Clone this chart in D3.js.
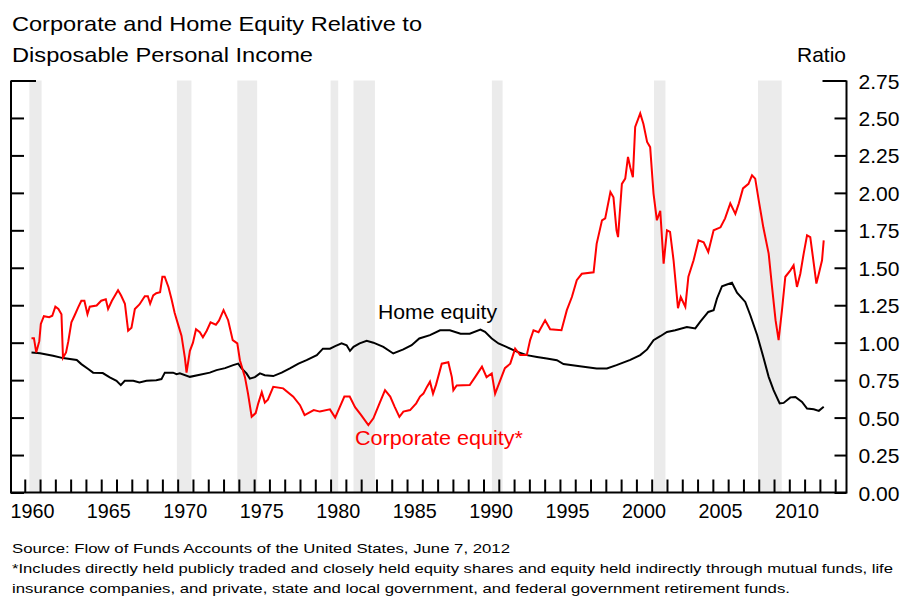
<!DOCTYPE html>
<html>
<head>
<meta charset="utf-8">
<script src="https://cdn.jsdelivr.net/npm/d3@7"></script>
<style>
  body { margin: 0; background: #fff; }
  text { font-family: "Liberation Sans", Arial, sans-serif; fill: #000; }
</style>
</head>
<body>
<svg id="chart" width="911" height="597"></svg>
<script>
// recession periods (shaded)
const recessions = [
  [1960.3, 1961.1], [1969.95, 1970.9], [1973.9, 1975.2], [1980.0, 1980.5],
  [1981.5, 1982.9], [1990.55, 1991.25], [2001.15, 2001.9], [2007.95, 2009.5]
];

const yTicks = [0, 0.25, 0.5, 0.75, 1.0, 1.25, 1.5, 1.75, 2.0, 2.25, 2.5, 2.75];
const yearLabels = [1960, 1965, 1970, 1975, 1980, 1985, 1990, 1995, 2000, 2005, 2010];

// [year, ratio]
const corporateEquity = [
  [1960.44, 1.03], [1960.6, 1.03], [1960.75, 0.935], [1960.95, 1.01], [1961.05, 1.125],
  [1961.25, 1.177], [1961.6, 1.17], [1961.8, 1.18], [1962.0, 1.24], [1962.2, 1.225],
  [1962.4, 1.19], [1962.5, 0.9], [1962.7, 0.935], [1962.85, 1.01], [1963.05, 1.136],
  [1963.25, 1.18], [1963.5, 1.237], [1963.7, 1.28], [1963.9, 1.28], [1964.1, 1.19],
  [1964.25, 1.24], [1964.7, 1.248], [1965.0, 1.28], [1965.3, 1.29], [1965.45, 1.225],
  [1965.7, 1.28], [1965.9, 1.315], [1966.1, 1.35], [1966.3, 1.315], [1966.55, 1.26],
  [1966.76, 1.08], [1966.98, 1.1], [1967.2, 1.225], [1967.5, 1.255], [1967.85, 1.31],
  [1968.05, 1.31], [1968.2, 1.26], [1968.4, 1.315], [1968.6, 1.33], [1968.85, 1.337],
  [1969.0, 1.44], [1969.15, 1.44], [1969.4, 1.37], [1969.6, 1.29], [1969.8, 1.2],
  [1970.05, 1.114], [1970.25, 1.047], [1970.47, 0.9], [1970.58, 0.8], [1970.8, 0.946],
  [1971.0, 1.0], [1971.2, 1.09], [1971.45, 1.07], [1971.65, 1.036], [1971.9, 1.08],
  [1972.15, 1.136], [1972.5, 1.12], [1972.7, 1.147], [1973.0, 1.217], [1973.3, 1.15],
  [1973.6, 1.017], [1973.9, 0.995], [1974.07, 0.883], [1974.4, 0.77], [1974.6, 0.66],
  [1974.84, 0.505], [1975.1, 0.53], [1975.27, 0.595], [1975.5, 0.67], [1975.7, 0.6],
  [1975.9, 0.62], [1976.25, 0.705], [1976.9, 0.695], [1977.56, 0.64], [1978.0, 0.583],
  [1978.3, 0.517], [1978.9, 0.55], [1979.3, 0.54], [1979.96, 0.555], [1980.3, 0.5],
  [1980.6, 0.57], [1980.9, 0.64], [1981.25, 0.64], [1981.6, 0.57], [1982.0, 0.517],
  [1982.47, 0.45], [1982.8, 0.495], [1983.2, 0.595], [1983.56, 0.683], [1983.9, 0.64],
  [1984.2, 0.57], [1984.5, 0.505], [1984.76, 0.54], [1985.2, 0.55], [1985.6, 0.595],
  [1985.85, 0.64], [1986.07, 0.66], [1986.3, 0.705], [1986.5, 0.74], [1986.7, 0.66],
  [1986.9, 0.72], [1987.27, 0.86], [1987.7, 0.87], [1987.93, 0.77], [1988.03, 0.683],
  [1988.25, 0.715], [1989.1, 0.717], [1989.45, 0.77], [1989.9, 0.84], [1990.2, 0.77],
  [1990.54, 0.795], [1990.76, 0.66], [1991.1, 0.75], [1991.4, 0.83], [1991.75, 0.86],
  [1992.07, 0.96], [1992.4, 0.917], [1992.83, 0.917], [1993.05, 1.017], [1993.27, 1.083],
  [1993.6, 1.07], [1994.03, 1.15], [1994.36, 1.09], [1995.1, 1.083], [1995.45, 1.217],
  [1995.78, 1.305], [1996.1, 1.417], [1996.43, 1.46], [1997.2, 1.47], [1997.4, 1.66],
  [1997.75, 1.817], [1997.96, 1.83], [1998.3, 2.005], [1998.5, 1.97], [1998.7, 1.75],
  [1998.8, 1.705], [1999.05, 2.06], [1999.27, 2.095], [1999.45, 2.24], [1999.6, 2.17],
  [1999.77, 2.105], [1999.92, 2.44], [2000.25, 2.53], [2000.46, 2.46], [2000.7, 2.34],
  [2000.9, 2.305], [2001.12, 1.995], [2001.34, 1.817], [2001.56, 1.88], [2001.78, 1.528],
  [2002.0, 1.75], [2002.2, 1.74], [2002.43, 1.55], [2002.72, 1.23], [2002.9, 1.305],
  [2003.2, 1.24], [2003.4, 1.44], [2003.74, 1.55], [2004.06, 1.683], [2004.4, 1.67],
  [2004.7, 1.605], [2005.05, 1.75], [2005.5, 1.77], [2005.8, 1.83], [2006.14, 1.93],
  [2006.47, 1.86], [2006.7, 1.93], [2006.97, 2.03], [2007.33, 2.06], [2007.56, 2.117],
  [2007.77, 2.095], [2008.0, 1.95], [2008.3, 1.77], [2008.65, 1.595], [2008.87, 1.372],
  [2009.1, 1.15], [2009.3, 1.017], [2009.52, 1.217], [2009.74, 1.44], [2010.07, 1.483],
  [2010.28, 1.517], [2010.5, 1.372], [2010.72, 1.46], [2010.94, 1.595], [2011.16, 1.717],
  [2011.37, 1.705], [2011.6, 1.528], [2011.77, 1.395], [2011.93, 1.46], [2012.14, 1.55],
  [2012.25, 1.683]
];

const homeEquity = [
  [1960.44, 0.935], [1961.0, 0.93], [1961.85, 0.913], [1962.5, 0.897], [1963.4, 0.884],
  [1963.7, 0.857], [1964.15, 0.824], [1964.47, 0.8], [1965.1, 0.797], [1965.56, 0.768],
  [1966.0, 0.746], [1966.28, 0.717], [1966.54, 0.746], [1967.1, 0.746], [1967.5, 0.734],
  [1967.96, 0.746], [1968.6, 0.75], [1968.94, 0.757], [1969.16, 0.8], [1969.7, 0.8],
  [1969.93, 0.79], [1970.14, 0.795], [1970.8, 0.772], [1971.45, 0.786], [1972.1, 0.8],
  [1972.54, 0.817], [1973.1, 0.83], [1973.63, 0.85], [1973.96, 0.86], [1974.18, 0.828],
  [1974.5, 0.795], [1974.72, 0.76], [1975.05, 0.77], [1975.38, 0.795], [1975.7, 0.783],
  [1976.25, 0.777], [1976.8, 0.8], [1977.34, 0.828], [1977.9, 0.86], [1978.43, 0.883],
  [1979.1, 0.917], [1979.5, 0.96], [1979.96, 0.96], [1980.3, 0.977], [1980.72, 0.995],
  [1981.05, 0.983], [1981.27, 0.945], [1981.5, 0.972], [1981.9, 0.995], [1982.36, 1.012],
  [1982.8, 1.0], [1983.45, 0.972], [1984.1, 0.928], [1984.76, 0.955], [1985.3, 0.983],
  [1985.8, 1.028], [1986.5, 1.05], [1987.16, 1.083], [1987.8, 1.083], [1988.5, 1.06],
  [1989.1, 1.06], [1989.8, 1.088], [1990.1, 1.072], [1990.54, 1.028], [1990.98, 0.995],
  [1991.5, 0.972], [1992.18, 0.94], [1992.83, 0.917], [1993.5, 0.905], [1994.14, 0.895],
  [1994.8, 0.883], [1995.23, 0.857], [1996.3, 0.843], [1997.4, 0.828], [1998.07, 0.828],
  [1998.7, 0.85], [1999.6, 0.885], [2000.25, 0.917], [2000.7, 0.955], [2001.12, 1.017],
  [2001.56, 1.043], [2002.0, 1.072], [2002.54, 1.083], [2003.3, 1.105], [2003.85, 1.095],
  [2004.18, 1.14], [2004.7, 1.205], [2005.05, 1.217], [2005.27, 1.295], [2005.6, 1.377],
  [2005.92, 1.388], [2006.25, 1.4], [2006.58, 1.333], [2007.12, 1.272], [2007.45, 1.183],
  [2007.9, 1.05], [2008.3, 0.905], [2008.65, 0.772], [2008.97, 0.683], [2009.37, 0.595],
  [2009.63, 0.598], [2010.07, 0.635], [2010.4, 0.638], [2010.83, 0.605], [2011.16, 0.56],
  [2011.6, 0.555], [2011.93, 0.545], [2012.25, 0.572]
];

const svg = d3.select("#chart");
const plotLeft = 11, plotRight = 846.5, plotTop = 80.5, plotBottom = 492.5;

const x = d3.scaleLinear().domain([1959.1, 2013.74]).range([plotLeft, plotRight]);
const y = d3.scaleLinear().domain([0, 2.75]).range([plotBottom, plotTop]);

// recession shading
svg.append("g")
  .selectAll("rect")
  .data(recessions)
  .enter()
  .append("rect")
  .attr("x", d => x(d[0]))
  .attr("width", d => x(d[1]) - x(d[0]))
  .attr("y", plotTop)
  .attr("height", plotBottom - plotTop)
  .attr("fill", "#ebebeb");

// left axis ticks (inward)
const leftAxis = d3.axisRight(y).tickValues(yTicks).tickSize(13).tickFormat("");
const lg = svg.append("g").attr("transform", `translate(${plotLeft},0)`).call(leftAxis);
lg.select(".domain").remove();
lg.selectAll(".tick line").attr("stroke", "#000").attr("stroke-width", 2)
  .filter(d => d === 2.75).attr("x2", 25);

// right axis
const rightAxis = d3.axisLeft(y).tickValues(yTicks).tickSize(12).tickFormat(d3.format(".2f"));
const rg = svg.append("g").attr("transform", `translate(${plotRight},0)`).call(rightAxis);
rg.select(".domain").remove();
rg.selectAll(".tick line").attr("stroke", "#000").attr("stroke-width", 2)
  .filter(d => d === 2.75).attr("x2", -24);
rg.selectAll(".tick text")
  .attr("x", 12)
  .attr("text-anchor", "start")
  .attr("dy", "0.36em")
  .style("font-size", "21px")
  .attr("fill", "#000")
  .attr("textLength", 41)
  .attr("lengthAdjust", "spacingAndGlyphs");

// bottom axis: yearly ticks pointing up
const years = d3.range(1960, 2014);
const bottomAxis = d3.axisTop(x).tickValues(years).tickSize(13).tickFormat("");
const bg = svg.append("g").attr("transform", `translate(0,${plotBottom})`).call(bottomAxis);
bg.select(".domain").remove();
bg.selectAll(".tick line").attr("stroke", "#000").attr("stroke-width", 2);

// year labels (centered within the year)
svg.append("g")
  .selectAll("text")
  .data(yearLabels)
  .enter()
  .append("text")
  .attr("x", d => x(d + 0.5))
  .attr("y", 518)
  .attr("text-anchor", "middle")
  .style("font-size", "21px")
  .attr("textLength", 44)
  .attr("lengthAdjust", "spacingAndGlyphs")
  .text(d => d);

// frame lines
svg.append("path")
  .attr("d", `M${plotLeft},${plotTop}V${plotBottom}H${plotRight}V${plotTop}`)
  .attr("fill", "none")
  .attr("stroke", "#000")
  .attr("stroke-width", 2);

// series
const line = d3.line().x(d => x(d[0])).y(d => y(d[1]));

svg.append("path")
  .datum(homeEquity)
  .attr("d", line)
  .attr("fill", "none")
  .attr("stroke", "#000")
  .attr("stroke-width", 2);

svg.append("path")
  .datum(corporateEquity)
  .attr("d", line)
  .attr("fill", "none")
  .attr("stroke", "#ff0000")
  .attr("stroke-width", 2);

// series labels
svg.append("text")
  .attr("x", 378).attr("y", 319)
  .style("font-size", "20px")
  .attr("textLength", 119).attr("lengthAdjust", "spacingAndGlyphs")
  .text("Home equity");

svg.append("text")
  .attr("x", 355).attr("y", 445)
  .style("font-size", "20px")
  .style("fill", "#ff0000")
  .attr("textLength", 168).attr("lengthAdjust", "spacingAndGlyphs")
  .text("Corporate equity*");

// titles
svg.append("text")
  .attr("x", 12).attr("y", 31)
  .style("font-size", "21px")
  .attr("textLength", 410).attr("lengthAdjust", "spacingAndGlyphs")
  .text("Corporate and Home Equity Relative to");

svg.append("text")
  .attr("x", 12).attr("y", 62)
  .style("font-size", "21px")
  .attr("textLength", 301).attr("lengthAdjust", "spacingAndGlyphs")
  .text("Disposable Personal Income");

svg.append("text")
  .attr("x", 846).attr("y", 62)
  .attr("text-anchor", "end")
  .style("font-size", "21px")
  .text("Ratio");

// notes
const notes = [
  ["Source: Flow of Funds Accounts of the United States, June 7, 2012", 553, 498],
  ["*Includes directly held publicly traded and closely held equity shares and equity held indirectly through mutual funds, life", 573, 881],
  ["insurance companies, and private, state and local government, and federal government retirement funds.", 593, 778]
];
svg.append("g")
  .selectAll("text")
  .data(notes)
  .enter()
  .append("text")
  .attr("x", 12)
  .attr("y", d => d[1])
  .style("font-size", "13.5px")
  .attr("textLength", d => d[2])
  .attr("lengthAdjust", "spacingAndGlyphs")
  .text(d => d[0]);
</script>
</body>
</html>
